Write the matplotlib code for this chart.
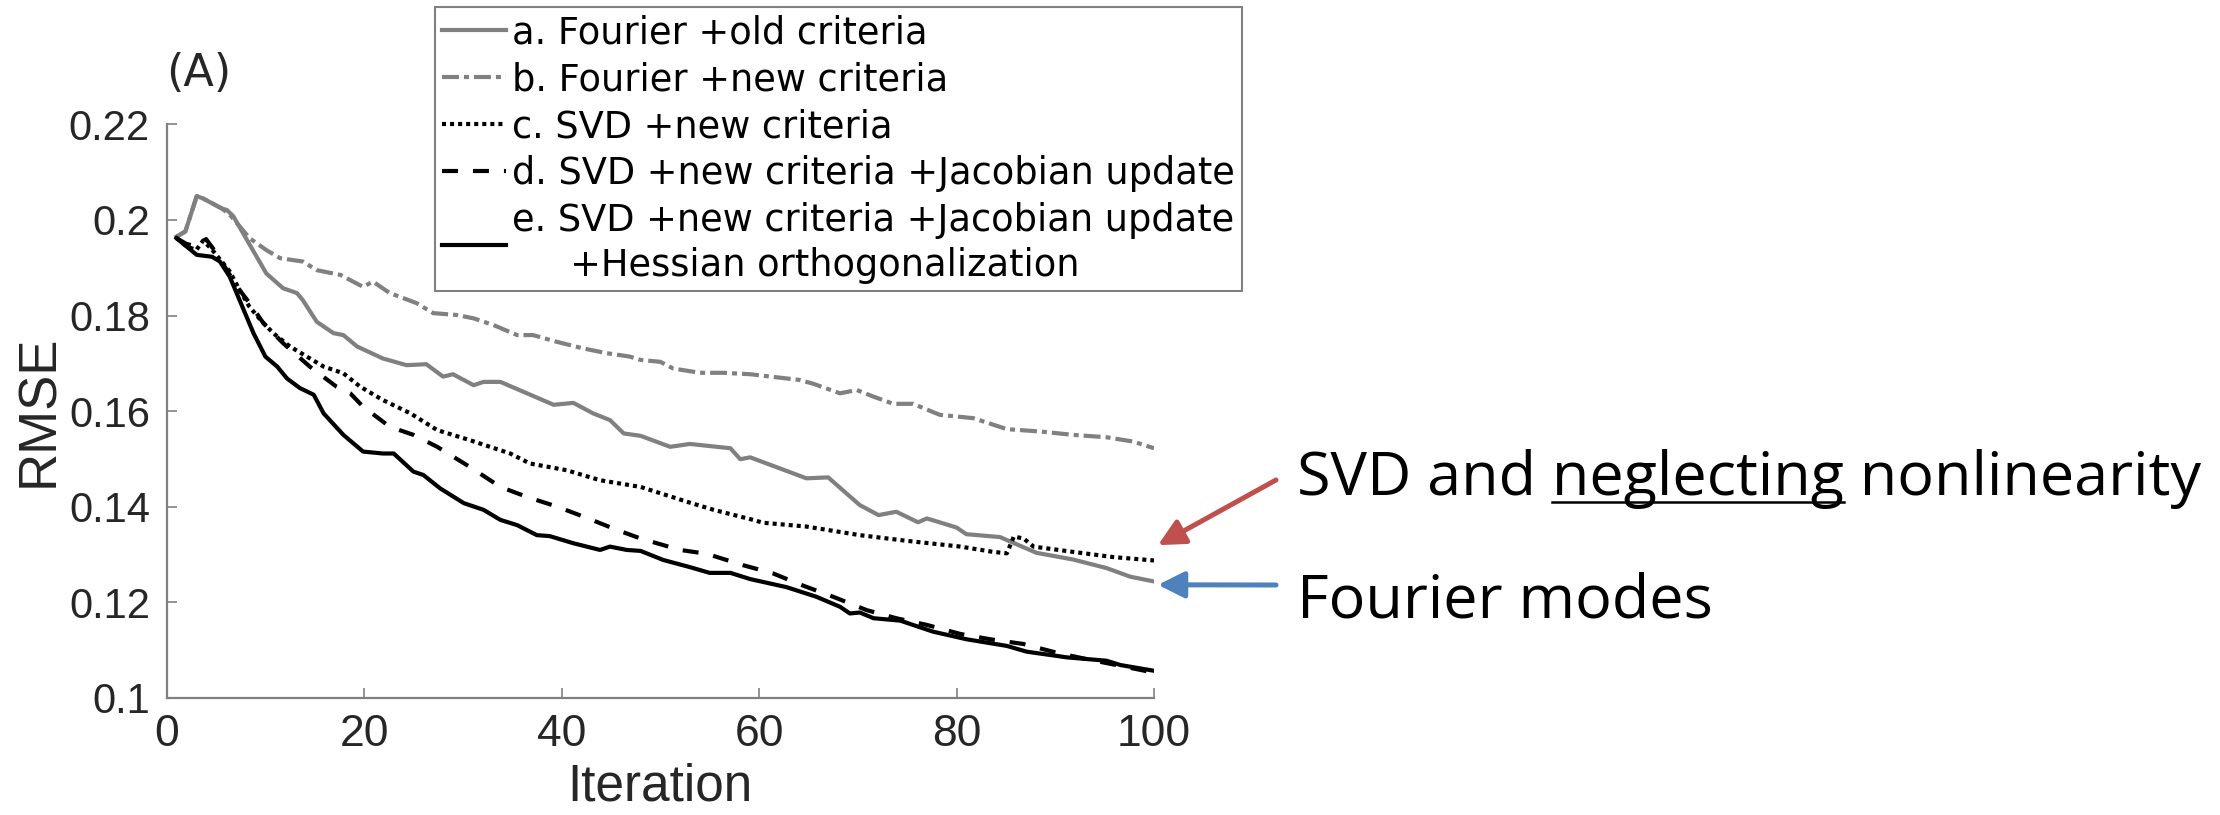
import matplotlib
matplotlib.use("Agg")
import matplotlib.pyplot as plt
from matplotlib.lines import Line2D
from matplotlib.ticker import FuncFormatter

# RMSE per iteration for the five optimisation variants
a_x = [1, 1.9, 3.05, 3.7, 5.6, 6.1, 6.75, 10.1, 11.8, 13.2, 13.8, 15.2, 16.9, 17.9, 19.3,
       21.9, 24.3, 26.3, 28.0, 29.0, 31.1, 32.1, 33.8, 36.5, 39.2, 41.2, 43.2, 44.9, 46.3,
       48.0, 51.0, 53.0, 57.1, 58.1, 59.1, 64.8, 67.0, 70.2, 72.1, 73.9, 76.1, 77.0, 80.0,
       81.0, 84.4, 88.1, 91.8, 95.2, 97.6, 100]
a_y = [0.1965, 0.1976, 0.2050, 0.2045, 0.2024, 0.2021, 0.2008, 0.1888, 0.1857, 0.1847,
       0.1832, 0.1787, 0.1763, 0.1759, 0.1735, 0.1710, 0.1696, 0.1698, 0.1672, 0.1677,
       0.1654, 0.1661, 0.1661, 0.1637, 0.1613, 0.1617, 0.1595, 0.1581, 0.1553, 0.1548,
       0.1525, 0.1531, 0.1522, 0.1499, 0.1503, 0.1459, 0.1461, 0.1403, 0.1382, 0.1389,
       0.1367, 0.1375, 0.1356, 0.1342, 0.1336, 0.1303, 0.1289, 0.1271, 0.1253, 0.1243]

b_x = [1, 1.9, 3.05, 3.7, 5.6, 6.4, 8.4, 10.1, 11.5, 13.8, 15.2, 17.6, 19.9, 20.9, 22.6,
       25.3, 27.0, 29.4, 31.1, 33.1, 35.5, 37.1, 39.5, 42.2, 44.6, 46.9, 48.0, 50.0, 51.3,
       54.0, 56.4, 59.1, 64.1, 65.5, 68.2, 69.9, 71.6, 73.6, 75.6, 78.3, 81.7, 85.1, 88.5,
       91.8, 95.2, 97.9, 100]
b_y = [0.1965, 0.1976, 0.2050, 0.2045, 0.2024, 0.2011, 0.1962, 0.1937, 0.1920, 0.1913,
       0.1895, 0.1885, 0.1860, 0.1871, 0.1847, 0.1826, 0.1805, 0.1801, 0.1794, 0.1780,
       0.1759, 0.1759, 0.1745, 0.1731, 0.1721, 0.1714, 0.1707, 0.1703, 0.1689, 0.1680,
       0.1680, 0.1677, 0.1665, 0.1657, 0.1637, 0.1644, 0.1630, 0.1615, 0.1615, 0.1592,
       0.1585, 0.1562, 0.1557, 0.1550, 0.1545, 0.1536, 0.1522]

c_x = [1, 2, 3, 3.7, 4.6, 5.5, 6.4, 7.4, 8.4, 9.5, 10.8, 12.5, 14.2, 15.9, 17.9, 19.6,
       21.9, 24.7, 27.4, 30.7, 34.8, 36.8, 40.5, 43.9, 48.0, 53.0, 55.4, 59.4, 60.4, 64.8,
       70.2, 75.0, 80.4, 83.7, 85.1, 85.8, 86.8, 87.8, 91.8, 95.9, 100]
c_y = [0.1962, 0.1945, 0.1937, 0.1957, 0.1938, 0.1915, 0.1892, 0.1853, 0.1818, 0.1791,
       0.1763, 0.1735, 0.1714, 0.1693, 0.1679, 0.1651, 0.1623, 0.1595, 0.1560, 0.1539,
       0.1511, 0.1490, 0.1476, 0.1455, 0.1441, 0.1408, 0.1393, 0.1372, 0.1366, 0.1358,
       0.1340, 0.1328, 0.1316, 0.1305, 0.1302, 0.1337, 0.1333, 0.1316, 0.1305, 0.1294,
       0.1287]

d_x = [1, 2, 3, 4.0, 5.0, 6.1, 7.4, 8.4, 9.8, 11.8, 14.5, 17.2, 18.6, 19.9, 22.6, 25.0,
       27.4, 30.7, 33.8, 36.5, 39.5, 42.2, 45.6, 48.0, 52.0, 54.7, 58.4, 61.4, 64.5, 67.5,
       70.9, 73.9, 77.0, 80.4, 83.4, 86.8, 90.1, 93.5, 96.9, 100]
d_y = [0.1962, 0.1950, 0.1945, 0.1960, 0.1932, 0.1895, 0.1853, 0.1826, 0.1784, 0.1742,
       0.1693, 0.1651, 0.1637, 0.1609, 0.1567, 0.1550, 0.1525, 0.1483, 0.1441, 0.1420,
       0.1400, 0.1379, 0.1351, 0.1333, 0.1309, 0.1301, 0.1277, 0.1260, 0.1234, 0.1211,
       0.1183, 0.1166, 0.1152, 0.1133, 0.1122, 0.1112, 0.1094, 0.1079, 0.1065, 0.1052]

e_x = [1, 3.05, 4.6, 5.4, 6.4, 7.8, 8.8, 10.0, 11.2, 12.2, 13.5, 14.9, 15.9, 17.9, 19.9,
       21.9, 23.0, 25.0, 26.0, 27.7, 30.1, 32.1, 33.8, 35.5, 37.5, 38.8, 41.2, 43.9, 44.9,
       46.6, 48.0, 50.3, 53.0, 55.0, 57.1, 59.1, 62.8, 65.8, 68.2, 69.2, 70.2, 71.6, 74.3,
       77.6, 81.0, 85.1, 87.1, 91.2, 95.2, 96.6, 100]
e_y = [0.1962, 0.1927, 0.1923, 0.1913, 0.1881, 0.1812, 0.1763, 0.1714, 0.1693, 0.1668,
       0.1648, 0.1634, 0.1595, 0.1550, 0.1515, 0.1511, 0.1511, 0.1473, 0.1466, 0.1438,
       0.1407, 0.1393, 0.1372, 0.1361, 0.1340, 0.1338, 0.1323, 0.1309, 0.1316, 0.1309,
       0.1307, 0.1288, 0.1273, 0.1261, 0.1261, 0.1248, 0.1231, 0.1211, 0.1190, 0.1176,
       0.1178, 0.1166, 0.1161, 0.1138, 0.1122, 0.1108, 0.1096, 0.1084, 0.1077, 0.1068,
       0.1056]

labels = ["a. Fourier +old criteria",
          "b. Fourier +new criteria",
          "c. SVD +new criteria",
          "d. SVD +new criteria +Jacobian update",
          "e. SVD +new criteria +Jacobian update\n     +Hessian orthogonalization"]

x_ticks = [0, 20, 40, 60, 80, 100]
y_ticks = [0.1, 0.12, 0.14, 0.16, 0.18, 0.2, 0.22]

plt.rcParams["font.family"] = ["Liberation Sans", "DejaVu Sans"]
plt.rcParams["lines.scale_dashes"] = False

GRAY = "#808080"
fig = plt.figure(figsize=(22.2, 8.15), dpi=100, facecolor="w")
ax = fig.add_axes([0.07505, 0.14417, 0.44477, 0.70307])

lw = 3.0
ax.plot(a_x, a_y, color=GRAY, lw=lw, ls="-", label=labels[0])
ax.plot(b_x, b_y, color=GRAY, lw=lw, ls=(0, (12.2, 3.6, 3.6, 3.6)), label=labels[1])
ax.plot(c_x, c_y, color="k", lw=lw, ls=(0, (2.9, 2.9)), dash_capstyle="butt", label=labels[2])
ax.plot(d_x, d_y, color="k", lw=lw, ls=(0, (11.5, 10.8)), label=labels[3])
ax.plot(e_x, e_y, color="k", lw=lw, ls="-", label=labels[4])

ax.set_xlim(0, 100)
ax.set_ylim(0.1, 0.22)
ax.set_xticks(x_ticks)
ax.set_yticks(y_ticks)
ax.yaxis.set_major_formatter(FuncFormatter(lambda v, p: "%g" % round(v, 2)))
for s in ["top", "right"]:
    ax.spines[s].set_visible(False)
for s in ["left", "bottom"]:
    ax.spines[s].set_color(GRAY)
    ax.spines[s].set_linewidth(1.6)
ax.tick_params(direction="in", length=7, width=1.2, color=GRAY, labelcolor="#262626")
ax.tick_params(axis="y", labelsize=30, pad=12)
ax.tick_params(axis="x", labelsize=32, pad=12)

ax.set_xlabel("Iteration", fontsize=37, color="#262626")
ax.xaxis.set_label_coords(0.5, -0.113)
ax.set_ylabel("RMSE", fontsize=38, color="#262626")
ax.yaxis.set_label_coords(-0.104, 0.5)

fig.text(166 / 2220, 1 - 74 / 815, "(A)", fontsize=32, va="center", ha="left",
         color="#262626", family=["DejaVu Sans"])

leg = ax.legend(loc="upper left", bbox_to_anchor=(435 / 2220, 1 - 7 / 815),
                bbox_transform=fig.transFigure, borderaxespad=0,
                prop=dict(family=["DejaVu Sans"], size=26.5),
                handlelength=1.74, handletextpad=0.14, labelspacing=0.27,
                borderpad=0.2, fancybox=False, framealpha=1)
leg.get_frame().set_edgecolor(GRAY)
leg.get_frame().set_linewidth(1.5)
for t in leg.get_texts():
    t.set_linespacing(1.27)

# callouts pointing at the final values of curves c and a
ax.annotate("", xy=(100.4, c_y[-1] + 0.0032), xycoords="data",
            xytext=(1276 / 2220, 1 - 480 / 815), textcoords="figure fraction",
            arrowprops=dict(arrowstyle="-|>", color="#C0504D", lw=3.6,
                            mutation_scale=40, shrinkA=0, shrinkB=0),
            annotation_clip=False)
ax.annotate("", xy=(100.4, a_y[-1] - 0.0007), xycoords="data",
            xytext=(1276 / 2220, 1 - 585 / 815), textcoords="figure fraction",
            arrowprops=dict(arrowstyle="-|>", color="#4F81BD", lw=3.6,
                            mutation_scale=40, shrinkA=0, shrinkB=0),
            annotation_clip=False)

note_font = dict(family=["Open Sans", "DejaVu Sans"], fontsize=44, color="k")
tx, ty = 1297 / 2220, 1 - 495 / 815
fig.text(tx, ty, "SVD and neglecting nonlinearity", va="baseline", ha="left", **note_font)
fig.text(tx, 1 - 618 / 815, "Fourier modes", va="baseline", ha="left", **note_font)

# underline the word "neglecting"
fig.canvas.draw()
r = fig.canvas.get_renderer()
t1 = fig.text(tx, ty, "SVD and neglecting", va="baseline", ha="left", **note_font)
t2 = fig.text(tx, ty, "neglecting", va="baseline", ha="left", **note_font)
w1 = t1.get_window_extent(r).width
w2 = t2.get_window_extent(r).width
t1.remove()
t2.remove()
W = fig.get_figwidth() * fig.dpi
u0 = tx + (w1 - w2) / W
u1 = tx + w1 / W
fig.add_artist(Line2D([u0, u1], [ty - 7 / 815] * 2, transform=fig.transFigure,
                      color="k", lw=1.8))

fig.savefig("out.png", dpi=100, facecolor="w")
